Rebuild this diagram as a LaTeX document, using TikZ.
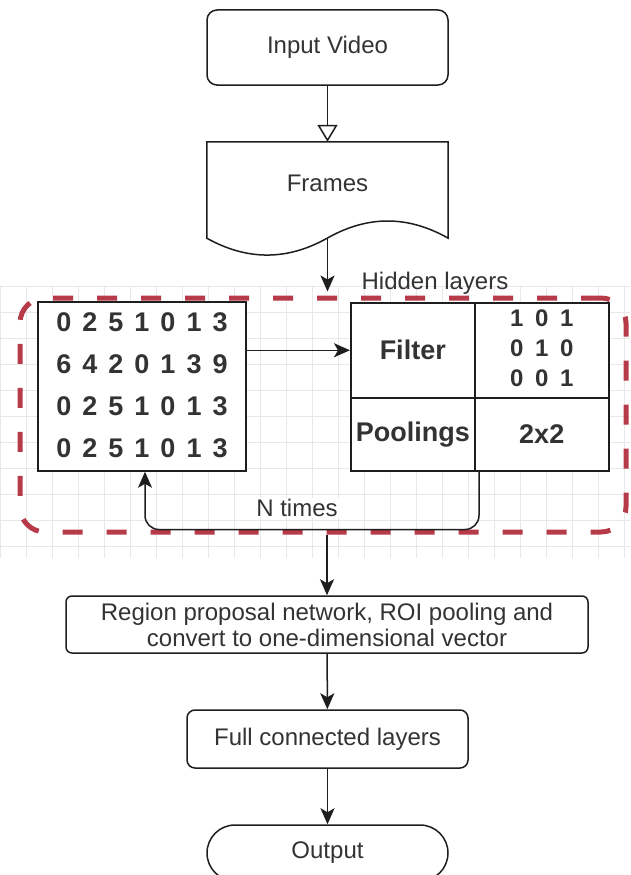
\documentclass[tikz,border=0pt]{standalone}
\usepackage{fontspec}
\setmainfont{Liberation Sans}
\usetikzlibrary{arrows.meta}
\definecolor{ink}{HTML}{1E1E1E}
\definecolor{txt}{HTML}{333333}
\definecolor{dashred}{HTML}{B63A48}
\definecolor{gridc}{HTML}{E8E8E8}
\begin{document}
\begin{tikzpicture}[x=1pt,y=-1pt,
  box/.style={draw=ink, line width=1.5pt, text=txt, align=center, inner sep=0pt, font=\fontsize{24}{26}\selectfont},
  cell/.style={draw=ink, line width=1.5pt, text=txt, inner sep=0pt, anchor=north west, font=\bfseries\fontsize{27}{30}\selectfont},
  arr/.style={draw=ink, line width=1.5pt, -{Stealth[length=16pt,width=14pt,inset=4pt]}},
  openarr/.style={draw=ink, line width=1.5pt, -{Triangle[open,length=17pt,width=20pt]}},
  lbl/.style={text=txt, inner sep=1pt, font=\fontsize{24}{26}\selectfont},
  gridline/.style={draw=gridc, line width=0.8pt}
]
\clip (0,0) rectangle (630,875);
\fill[white] (0,0) rectangle (630,875);
% faint grid
\foreach \gx in {0,26,...,630} \draw[gridline] (\gx,286) -- (\gx,558);
\foreach \gy in {286,312,...,558} \draw[gridline] (0,\gy) -- (630,\gy);
% hidden-layers region
\node[draw=dashred, line width=5pt, dash pattern=on 20pt off 24pt, rounded corners=25pt,
      minimum width=606pt, minimum height=234pt, inner sep=0pt] (hidden) at (323,415) {};
\node[lbl] (hidlbl) at (435,283) {Hidden layers};
% top nodes
\node[box, rounded corners=10pt, minimum width=241pt, minimum height=75pt] (input) at (327.5,47.5) {Input Video};
\node[inner sep=0pt, minimum width=241pt, minimum height=96pt] (framesbox) at (327.5,190) {};
\draw[ink, line width=1.5pt] (framesbox.south west) -- (framesbox.north west) -- (framesbox.north east)
  -- (framesbox.south east) .. controls (407.8,215.3) and (367.7,215.3) .. (327.5,238)
  .. controls (287.3,260.7) and (247.2,260.7) .. (framesbox.south west) -- cycle;
\node[lbl] (framestxt) at (327.5,183) {Frames};
% matrix
\node[box, fill=white, minimum width=208pt, minimum height=169pt, font=\bfseries\fontsize{27}{42}\selectfont] (mat) at (142,386.5)
  {\setlength{\tabcolsep}{5.5pt}\begin{tabular}{*{7}{c}}0&2&5&1&0&1&3\\6&4&2&0&1&3&9\\0&2&5&1&0&1&3\\0&2&5&1&0&1&3\end{tabular}};
% table
\node[cell, fill=white, minimum width=124pt, minimum height=95pt] (filterlbl) at (350,302) {Filter};
\node[cell, fill=white, minimum width=134pt, minimum height=95pt, font=\bfseries\fontsize{24}{30}\selectfont] (filterval) at (474,302)
  {\setlength{\tabcolsep}{5.8pt}\begin{tabular}{ccc}1&0&1\\0&1&0\\0&0&1\end{tabular}};
\node[cell, fill=white, minimum width=124pt, minimum height=73pt] (poollbl) at (350,397) {Poolings};
\node[cell, fill=white, minimum width=134pt, minimum height=73pt] (poolval) at (474,397) {2x2};
% bottom nodes
\node[box, rounded corners=6pt, minimum width=522pt, minimum height=57pt] (rpn) at (327,624.5)
  {Region proposal network, ROI pooling and\\convert to one-dimensional vector};
\node[box, rounded corners=8pt, minimum width=281pt, minimum height=58pt] (fc) at (327.5,739) {Full connected layers};
\node[box, rounded corners=28pt, minimum width=241pt, minimum height=56pt] (out) at (327.5,853) {Output};
% connectors
\draw[openarr] (input) -- (framesbox.north);
\draw[arr, shorten >=4pt] (framesbox.south) -- (framesbox.south |- hidden.north);
\draw[arr] (mat.east |- filterlbl.west) -- (filterlbl.west);
\draw[arr, rounded corners=14pt] ([xshift=5pt]poolval.south west) -- ++(0,58) -| ([xshift=3pt]mat.south);
\node[lbl, fill=white] (ntimes) at (297,508) {N times};
\draw[arr] (hidden.south -| rpn.north) -- (rpn.north);
\draw[arr] (rpn) -- (fc);
\draw[arr] (fc) -- (out);
\end{tikzpicture}
\end{document}
